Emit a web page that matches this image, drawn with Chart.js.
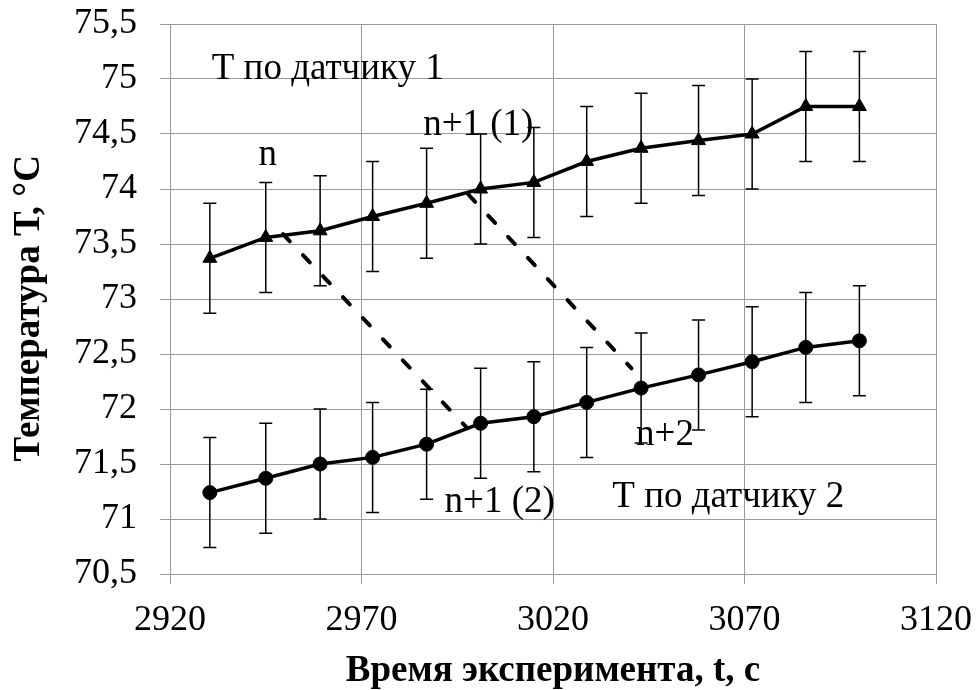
<!DOCTYPE html>
<html>
<head>
<meta charset="utf-8">
<script src="https://cdn.jsdelivr.net/npm/chart.js@4"></script>
<style>
  html, body { margin: 0; padding: 0; background: #fff; }
  canvas { display: block; }
</style>
</head>
<body>
<canvas id="tempChart" width="977" height="690"></canvas>
<script>
// Data
const times = [2930.4, 2945.0, 2959.2, 2972.9, 2987.0, 3001.1, 3015.0, 3028.8, 3043.0, 3058.0, 3072.0, 3086.0, 3100.0];
const sensor1 = [73.37, 73.56, 73.62, 73.75, 73.87, 74.0, 74.06, 74.25, 74.37, 74.44, 74.5, 74.75, 74.75];
const sensor2 = [71.24, 71.37, 71.5, 71.56, 71.68, 71.87, 71.93, 72.06, 72.19, 72.31, 72.43, 72.56, 72.62];
const errorSize = 0.5;

const xRange = [2920, 3120];
const xStep = 50;
const yRange = [70.5, 75.5];
const yStep = 0.5;

// dashed guide lines between the curves
const dashTimes1 = [2949.5, 2997.5];
const dashTemps1 = [73.59, 71.83];
const dashTimes2 = [2997.9, 3040.5];
const dashTemps2 = [73.95, 72.37];

// text notes placed in data units (left, baseline)
const noteTexts = ['Т по датчику 1', 'n', 'n+1 (1)', 'n+2', 'n+1 (2)', 'Т по датчику 2'];
const noteTimes = [2930.9, 2943.1, 2986.1, 3041.7, 2991.7, 3035.5];
const noteTemps = [75.0, 74.22, 74.49, 71.67, 71.06, 71.11];

const toPoints = (xs, ys) => xs.map((x, i) => ({ x: x, y: ys[i] }));

Chart.defaults.font.family = '"Liberation Serif", "Times New Roman", serif';
Chart.defaults.color = '#000';

// Error bars, drawn before the lines so the markers sit on top
const errorBars = {
    id: 'errorBars',
    beforeDatasetsDraw(chart) {
        const ctx = chart.ctx;
        const xs = chart.scales.x, ys = chart.scales.y;
        ctx.save();
        ctx.strokeStyle = '#000';
        ctx.lineWidth = 1.5;
        [sensor1, sensor2].forEach(series => {
            series.forEach((v, i) => {
                const px = xs.getPixelForValue(times[i]);
                const top = ys.getPixelForValue(v + errorSize);
                const bot = ys.getPixelForValue(v - errorSize);
                ctx.beginPath();
                ctx.moveTo(px, top); ctx.lineTo(px, bot);
                ctx.moveTo(px - 6.5, top); ctx.lineTo(px + 6.5, top);
                ctx.moveTo(px - 6.5, bot); ctx.lineTo(px + 6.5, bot);
                ctx.stroke();
            });
        });
        ctx.restore();
    }
};

// Text notes on the plot
const notes = {
    id: 'notes',
    afterDatasetsDraw(chart) {
        const ctx = chart.ctx;
        const xs = chart.scales.x, ys = chart.scales.y;
        ctx.save();
        ctx.fillStyle = '#000';
        ctx.font = '37px "Liberation Serif"';
        ctx.textAlign = 'left';
        ctx.textBaseline = 'alphabetic';
        noteTexts.forEach((t, i) => {
            ctx.fillText(t, xs.getPixelForValue(noteTimes[i]), ys.getPixelForValue(noteTemps[i]));
        });
        ctx.restore();
    }
};

const fmt = v => {
    const r = Math.round(v * 10) / 10;
    return String(r).replace('.', ',');
};

const ctx = document.getElementById('tempChart').getContext('2d');
const tempChart = new Chart(ctx, {
    type: 'line',
    data: {
        datasets: [{
            label: 'Т по датчику 1',
            data: toPoints(times, sensor1),
            borderColor: '#000',
            backgroundColor: '#000',
            borderWidth: 3.5,
            pointStyle: 'triangle',
            pointRadius: 8,
            pointBorderWidth: 1,
            tension: 0
        }, {
            label: 'Т по датчику 2',
            data: toPoints(times, sensor2),
            borderColor: '#000',
            backgroundColor: '#000',
            borderWidth: 3.5,
            pointStyle: 'circle',
            pointRadius: 7,
            pointBorderWidth: 1,
            tension: 0
        }, {
            label: 'dash1',
            data: toPoints(dashTimes1, dashTemps1),
            borderColor: '#000',
            borderWidth: 4,
            borderCapStyle: 'round',
            borderDash: [10, 19],
            pointRadius: 0
        }, {
            label: 'dash2',
            data: toPoints(dashTimes2, dashTemps2),
            borderColor: '#000',
            borderWidth: 4,
            borderCapStyle: 'round',
            borderDash: [10, 19],
            pointRadius: 0
        }]
    },
    options: {
        responsive: false,
        animation: false,
        devicePixelRatio: 1,
        layout: { padding: { left: 0, right: 41, top: 24, bottom: 0 } },
        plugins: {
            legend: { display: false },
            tooltip: { enabled: false }
        },
        scales: {
            x: {
                type: 'linear',
                min: xRange[0],
                max: xRange[1],
                ticks: {
                    stepSize: xStep,
                    font: { size: 36 },
                    padding: 15,
                    maxRotation: 0,
                    callback: v => String(v)
                },
                grid: { color: '#9a9a9a', lineWidth: 1, tickLength: 10 },
                border: { color: '#9a9a9a' },
                title: {
                    display: true,
                    text: 'Время эксперимента, t, с',
                    font: { size: 37, weight: 'bold' },
                    padding: { top: 0, bottom: -4 }
                },
                afterFit(scale) {
                    scale.height = 116;
                    scale.paddingLeft = 0;
                    scale.paddingRight = 0;
                }
            },
            y: {
                min: yRange[0],
                max: yRange[1],
                ticks: {
                    stepSize: yStep,
                    font: { size: 36 },
                    padding: 23,
                    callback: v => fmt(v)
                },
                grid: { color: '#9a9a9a', lineWidth: 1, tickLength: 10 },
                border: { color: '#9a9a9a' },
                title: {
                    display: true,
                    text: 'Температура Т, °С\u00A0\u00A0',
                    font: { size: 37, weight: 'bold' },
                    padding: { top: 7, bottom: 0 }
                },
                afterFit(scale) {
                    scale.width = 170;
                    scale.paddingTop = 0;
                    scale.paddingBottom = 0;
                }
            }
        }
    },
    plugins: [errorBars, notes]
});
</script>
</body>
</html>
